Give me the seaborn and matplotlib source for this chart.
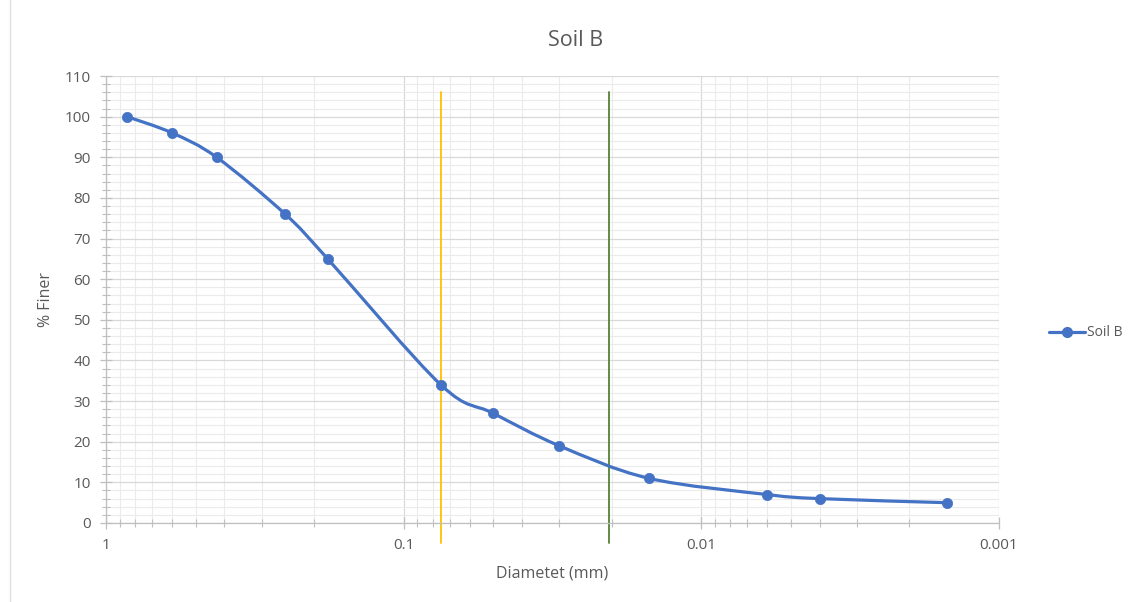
import numpy as np
import pandas as pd
import seaborn as sns
import matplotlib
matplotlib.use("Agg")
import matplotlib.pyplot as plt
from matplotlib.path import Path
from matplotlib.patches import PathPatch
from matplotlib.lines import Line2D
from matplotlib.ticker import FixedLocator, LogLocator, MultipleLocator, NullFormatter

# ---- data ----
diameter_mm = [0.85, 0.6, 0.425, 0.25, 0.18, 0.075, 0.05, 0.03, 0.015, 0.006, 0.004, 0.0015]
percent_finer = [100, 96, 90, 76, 65, 34, 27, 19, 11, 7, 6, 5]
series_name = "Soil B"
marker_lines_x = [0.075, 0.0205]
marker_lines_colors = ["#FFC000", "#548235"]
marker_lines_span = [-5, 106]
x_tick_values = [1, 0.1, 0.01, 0.001]
x_tick_labels = ["1", "0.1", "0.01", "0.001"]

df = pd.DataFrame({"Diameter": diameter_mm, "Finer": percent_finer})

sns.set_theme(style="white")
plt.rcParams["font.family"] = ["Open Sans", "DejaVu Sans"]
text_col = "#595959"

fig = plt.figure(figsize=(11.3, 6.02), dpi=100)
ax = fig.add_axes([106 / 1130, 1 - 523 / 602, (999 - 106) / 1130, (523 - 76) / 602])

ax.set_xscale("log")
ax.set_xlim(1, 0.001)
ax.set_ylim(0, 110)

# grid
ax.xaxis.set_major_locator(FixedLocator(x_tick_values))
ax.xaxis.set_minor_locator(LogLocator(base=10, subs=np.arange(2, 10)))
ax.xaxis.set_minor_formatter(NullFormatter())
ax.set_xticklabels(x_tick_labels)
ax.yaxis.set_major_locator(MultipleLocator(10))
ax.yaxis.set_minor_locator(MultipleLocator(2))
ax.grid(which="major", color="#D9D9D9", linewidth=0.9)
ax.grid(which="minor", color="#EBEBEB", linewidth=0.8)
ax.set_axisbelow(True)

for s in ["top", "right"]:
    ax.spines[s].set_visible(False)
for s in ["left", "bottom"]:
    ax.spines[s].set_color("#BFBFBF")
    ax.spines[s].set_linewidth(0.9)

ax.tick_params(which="major", direction="inout", length=8, width=0.9, color="#BFBFBF",
               labelsize=11, labelcolor=text_col, pad=7)
ax.tick_params(which="minor", direction="inout", length=6, width=0.8, color="#BFBFBF")
ax.tick_params(axis="x", which="both", bottom=True)
ax.tick_params(axis="y", which="both", left=True)

# vertical reference lines
for xv, c in zip(marker_lines_x, marker_lines_colors):
    ax.plot([xv, xv], marker_lines_span, color=c, linewidth=1.3, clip_on=False, zorder=2)

# smooth (Excel-style) curve through the data points
lx = np.log10(df["Diameter"].to_numpy())
ly = df["Finer"].to_numpy(dtype=float)
P = np.column_stack([lx, ly])
verts = [P[0]]
codes = [Path.MOVETO]
n = len(P)
for i in range(n - 1):
    p0 = P[i - 1] if i > 0 else P[i]
    p1 = P[i]
    p2 = P[i + 1]
    p3 = P[i + 2] if i + 2 < n else P[i + 1]
    c1 = p1 + (p2 - p0) / 6.0
    c2 = p2 - (p3 - p1) / 6.0
    verts += [c1, c2, p2]
    codes += [Path.CURVE4] * 3
verts = np.array(verts)
verts[:, 0] = 10 ** verts[:, 0]
patch = PathPatch(Path(verts, codes), facecolor="none", edgecolor="#4472C4",
                  linewidth=2.3, zorder=3, capstyle="round", joinstyle="round")
ax.add_patch(patch)

sns.scatterplot(data=df, x="Diameter", y="Finer", ax=ax, color="#4472C4", s=55,
                edgecolor="#4472C4", linewidth=0.5, zorder=4, legend=False)

ax.set_xlim(1, 0.001)
ax.set_ylim(0, 110)
ax.set_xlabel("Diametet (mm)", fontsize=11.5, color=text_col, labelpad=9)
ax.set_ylabel("% Finer", fontsize=11.5, color=text_col)

fig.text(576 / 1130, 1 - 40 / 602, series_name, ha="center", va="center",
         fontsize=15.5, color=text_col)

handle = Line2D([0], [0], color="#4472C4", linewidth=2.3, marker="o", markersize=7)
fig.legend([handle], [series_name], loc="center left",
           bbox_to_anchor=(1036 / 1130, 1 - 333 / 602), frameon=False,
           fontsize=10, labelcolor=text_col, handlelength=2.6, handletextpad=0.2)

# faint border at left of image
fig.add_artist(Line2D([10 / 1130, 10 / 1130], [0, 1], color="#E0E0E0", linewidth=1.0))

ax.yaxis.set_label_coords(-(106 - 54) / (999 - 106), 0.5)

fig.savefig("out.png", dpi=100, facecolor="white")
